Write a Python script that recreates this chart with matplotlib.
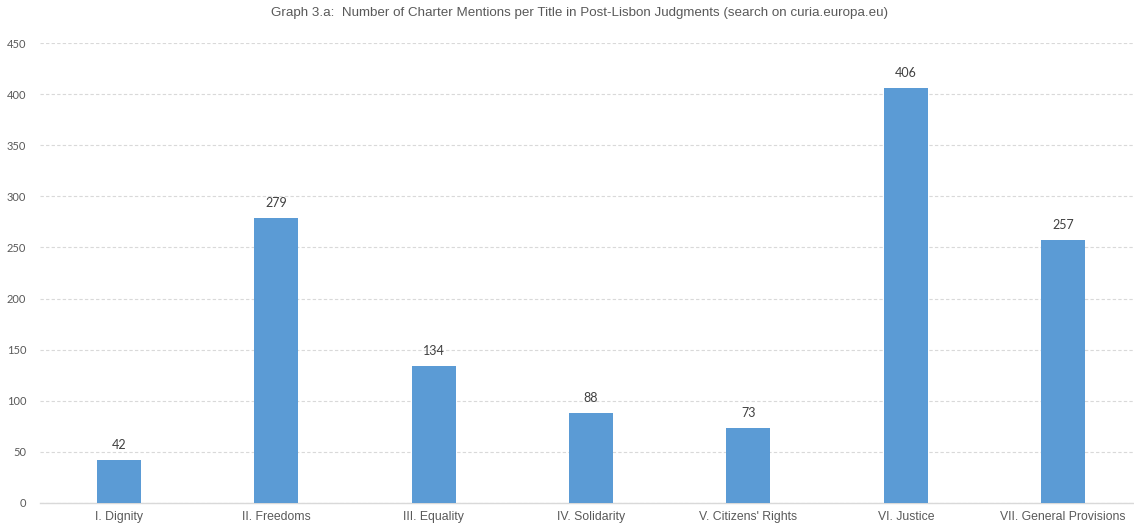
import matplotlib
matplotlib.use("Agg")
import matplotlib.pyplot as plt

categories = ["I. Dignity", "II. Freedoms", "III. Equality", "IV. Solidarity",
              "V. Citizens' Rights", "VI. Justice", "VII. General Provisions"]
values = [42, 279, 134, 88, 73, 406, 257]
yticks = [0, 50, 100, 150, 200, 250, 300, 350, 400, 450]
title = "Graph 3.a:  Number of Charter Mentions per Title in Post-Lisbon Judgments (search on curia.europa.eu)"

fig = plt.figure(figsize=(11.34, 5.24), dpi=100)
ax = fig.add_axes([0.0353, 0.0401, 0.9647, 0.8777])

x = list(range(len(categories)))
bars = ax.bar(x, values, width=0.28, color="#5B9BD5", zorder=3)
for xi, v in zip(x, values):
    ax.text(xi, v + 9, str(v), ha="center", va="bottom", fontsize=9,
            family=["Lato", "DejaVu Sans"], color="#404040")

ax.set_xlim(-0.502, 6.45)
ax.set_ylim(0, 450)
ax.set_yticks(yticks)
ax.set_yticklabels([str(t) for t in yticks], family=["Lato", "DejaVu Sans"], fontsize=8, color="#595959")
ax.set_xticks(x)
ax.set_xticklabels(categories, family=["Liberation Sans", "DejaVu Sans"], fontsize=8.8, color="#595959")
ax.tick_params(axis="y", length=0, pad=10)
ax.tick_params(axis="x", length=0, pad=6)
ax.grid(axis="y", color="#D9D9D9", linestyle=(0, (3, 2)), linewidth=0.8, zorder=0)
for s in ["top", "right", "left"]:
    ax.spines[s].set_visible(False)
ax.spines["bottom"].set_color("#D9D9D9")
ax.spines["bottom"].set_linewidth(1)

fig.text(579.5 / 1134, 1 - 13 / 524, title, ha="center", va="center", fontsize=9.6,
         family=["Liberation Sans", "DejaVu Sans"], color="#595959")

fig.savefig("out.png", dpi=100)
